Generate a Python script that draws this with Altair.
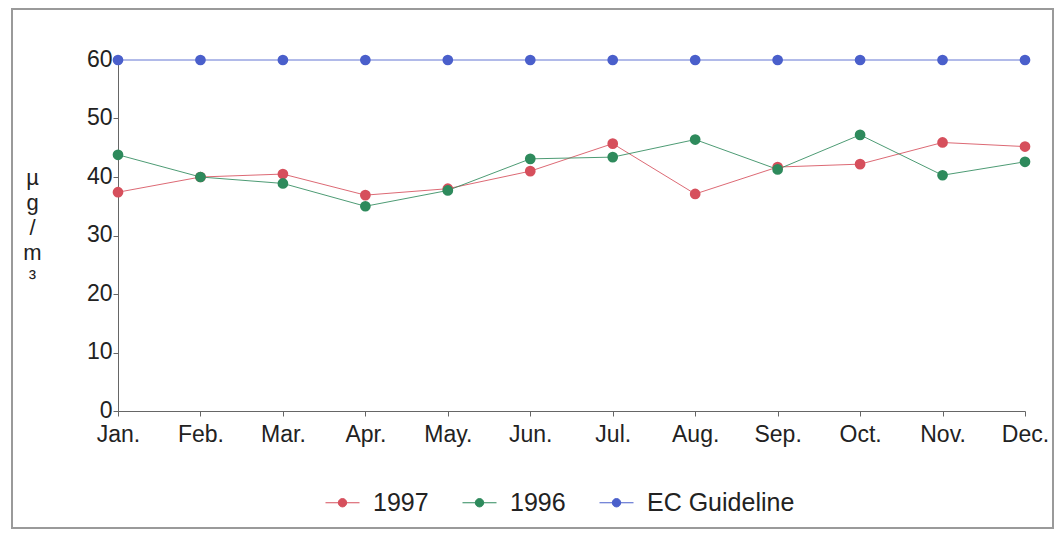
import altair as alt
import pandas as pd

months = ["Jan.", "Feb.", "Mar.", "Apr.", "May.", "Jun.", "Jul.", "Aug.", "Sep.", "Oct.", "Nov.", "Dec."]
v1997 = [37.4, 40.0, 40.5, 36.9, 38.0, 41.0, 45.7, 37.1, 41.7, 42.2, 45.9, 45.2]
v1996 = [43.8, 40.0, 38.9, 35.0, 37.7, 43.1, 43.4, 46.4, 41.3, 47.2, 40.3, 42.6]
vEC = [60] * 12
series = ["1997", "1996", "EC Guideline"]
colors = ["#d64f5c", "#2e8a5c", "#4a5fcb"]

rows = []
for name, vals in zip(series, [v1997, v1996, vEC]):
    for m, v in zip(months, vals):
        rows.append({"month": m, "value": v, "series": name})
df = pd.DataFrame(rows)

FONT = "Liberation Sans"
FS = 23
TXT = "#222"
W, H = 907, 351

x = alt.X("month:N", sort=months, title=None,
          scale=alt.Scale(type="point", padding=0),
          axis=alt.Axis(labelAngle=0, labelFontSize=FS, labelColor=TXT, labelFont=FONT,
                        tickSize=5, tickColor="#666", domainColor="#666", labelPadding=7,
                        grid=False))
y = alt.Y("value:Q", scale=alt.Scale(domain=[0, 60], nice=False),
          title=["µ", "g", "/", "m", "³"],
          axis=alt.Axis(values=[0, 10, 20, 30, 40, 50, 60], labelFontSize=FS, labelColor=TXT,
                        labelFont=FONT, tickSize=5, tickColor="#666", domainColor="#666",
                        grid=False, titleAngle=0, titleFontSize=22, titleFontWeight="normal",
                        titleFont=FONT, titleColor=TXT, titleX=-86, titleY=107,
                        titleBaseline="top", titleLineHeight=25, titleAlign="center",
                        labelPadding=1, labelOffset=-1))

color_scale = alt.Scale(domain=series, range=colors)
legend = alt.Legend(
    title=None, orient="none", direction="horizontal", legendX=212, legendY=430,
    labelFontSize=25, labelFont=FONT, labelColor=TXT, symbolSize=400,
    symbolType="M-1.7,0L1.7,0M-0.42,0A0.42,0.42,0,1,1,0.42,0A0.42,0.42,0,1,1,-0.42,0Z",
    symbolStrokeWidth=1, columnPadding=31, labelOffset=18, symbolOpacity=1,
)

base = alt.Chart(df)
lines = base.mark_line(strokeWidth=1, opacity=0.85).encode(
    x=x, y=y, stroke=alt.Stroke("series:N", scale=color_scale, legend=legend),
    detail="series:N")
points = base.mark_point(size=115, filled=True, opacity=1, strokeWidth=0).encode(
    x=x, y=y,
    fill=alt.Fill("series:N", scale=color_scale, legend=legend),
    stroke=alt.Stroke("series:N", scale=color_scale, legend=legend))

border = alt.Chart(pd.DataFrame({"a": [0]})).mark_rect(
    fill=None, stroke="#9a9a9a", strokeWidth=2, clip=False).encode(
    x=alt.value(-106), x2=alt.value(935), y=alt.value(-51), y2=alt.value(468))

chart = alt.layer(border, lines, points).properties(
    width=W, height=H,
    autosize=alt.AutoSizeParams(type="none"),
    padding={"left": 110, "top": 52, "right": 30, "bottom": 122},
).configure(background="white").configure_view(strokeOpacity=0, strokeWidth=0)

chart.save("out.html", embed_options={"renderer": "svg", "actions": False})
